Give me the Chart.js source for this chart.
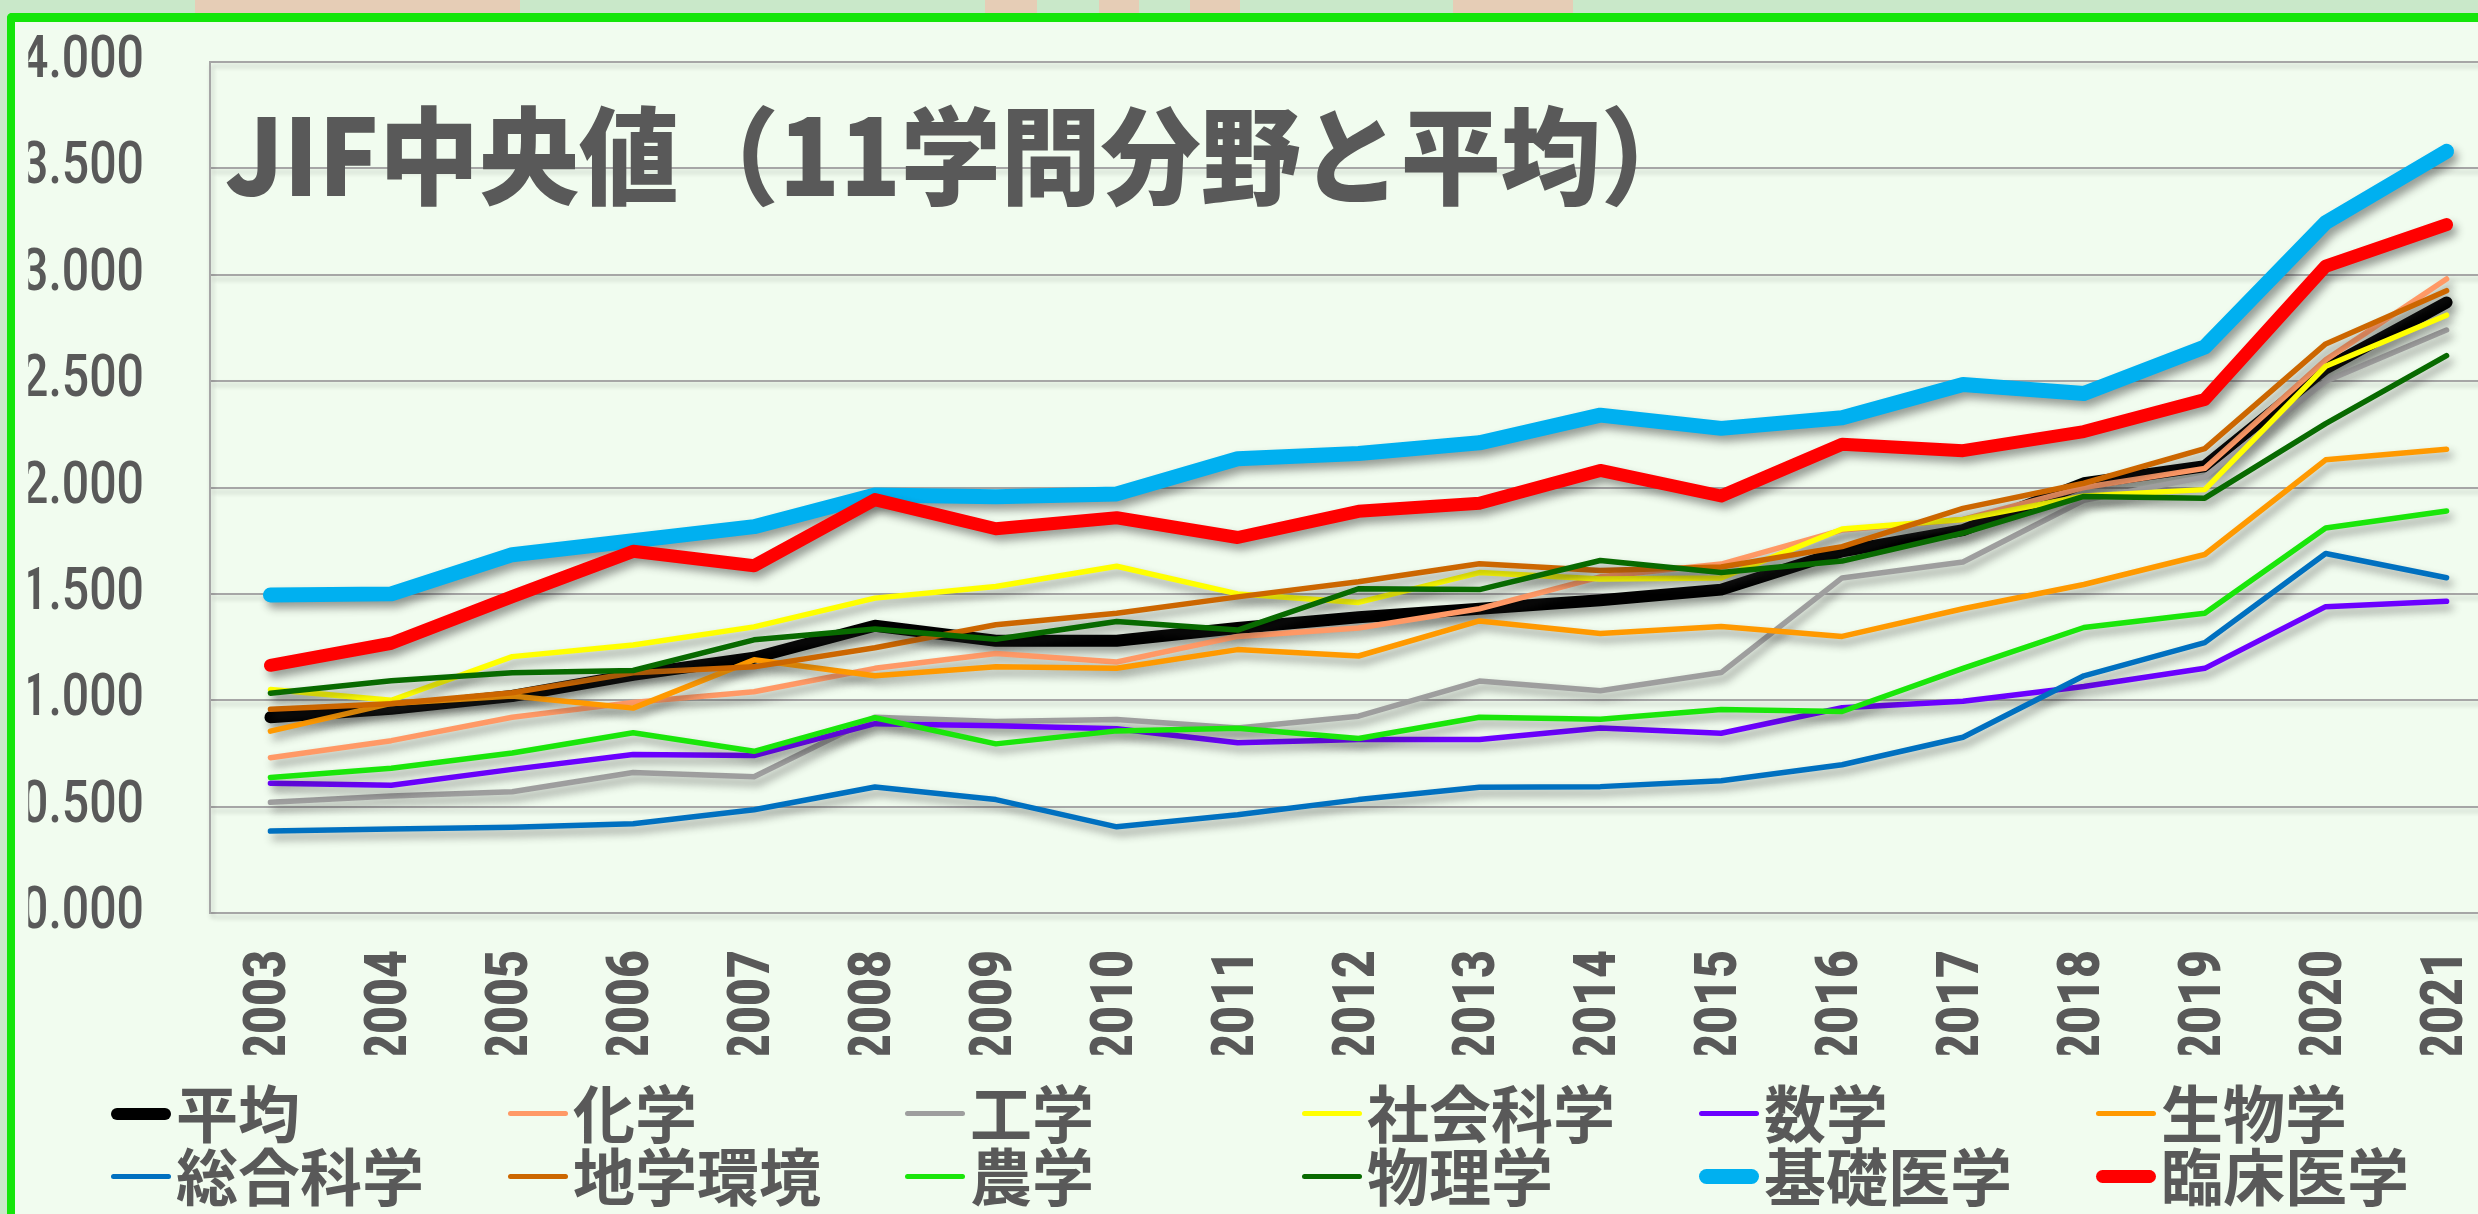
<!DOCTYPE html>
<html><head><meta charset="utf-8">
<script src="https://cdn.jsdelivr.net/npm/chart.js@4.4.1/dist/chart.umd.min.js"></script>
<style>
html,body{margin:0;padding:0;overflow:hidden;width:2478px;height:1214px;background:#C9E8C9;position:relative;}
#frame{position:absolute;left:7px;top:13px;width:2600px;height:1300px;border-left:8px solid #14E60A;border-top:9px solid #14E60A;border-top-left-radius:5px;background:#F1FCEF;}
.patch{position:absolute;top:0;height:13px;background:#E6CDB6;}
#wrap{position:absolute;left:0;top:0;width:2507px;height:1080px;z-index:2;}
#title{position:absolute;left:225px;top:100px;font-family:'Noto Sans CJK JP',sans-serif;font-weight:900;font-size:100px;color:#595959;line-height:100px;white-space:nowrap;transform-origin:0 50%;transform:scale(1.0,1.06);z-index:3;}
#legend{position:absolute;left:111px;top:1080px;display:grid;grid-template-columns:repeat(6,397px);grid-auto-rows:63px;z-index:3;}
.item{display:flex;align-items:center;}
.sw{width:60px;margin-right:5px;margin-top:4px;}
.lt{font-family:'Noto Sans CJK JP',sans-serif;font-weight:700;font-size:62px;color:#595959;line-height:63px;white-space:nowrap;}
</style></head>
<body>
<div class="patch" style="left:195px;width:325px"></div>
<div class="patch" style="left:985px;width:52px"></div>
<div class="patch" style="left:1099px;width:40px"></div>
<div class="patch" style="left:1190px;width:50px"></div>
<div class="patch" style="left:1453px;width:120px"></div>
<div id="frame"></div>
<div id="wrap"><canvas id="c" width="2507" height="1080" style="width:2507px;height:1080px"></canvas></div>
<div id="title"></div>
<div id="legend"></div>
<script>
const chartTitle = 'JIF中央値（11学問分野と平均）';
const years = ['2003','2004','2005','2006','2007','2008','2009','2010','2011','2012','2013','2014','2015','2016','2017','2018','2019','2020','2021'];
const seriesNames = ['平均','化学','工学','社会科学','数学','生物学','総合科学','地学環境','農学','物理学','基礎医学','臨床医学'];
const heikin   = [0.92,0.96,1.02,1.12,1.20,1.35,1.28,1.28,1.34,1.39,1.43,1.47,1.52,1.70,1.80,2.02,2.10,2.56,2.87];
const kagaku   = [0.73,0.81,0.92,0.99,1.04,1.15,1.22,1.18,1.30,1.34,1.43,1.58,1.64,1.80,1.85,2.00,2.09,2.60,2.98];
const kougaku  = [0.52,0.55,0.57,0.66,0.64,0.92,0.90,0.91,0.87,0.925,1.09,1.045,1.13,1.575,1.65,1.94,2.05,2.50,2.74];
const shakai   = [1.05,1.00,1.205,1.26,1.345,1.48,1.535,1.63,1.50,1.46,1.60,1.57,1.575,1.805,1.85,1.96,1.99,2.57,2.81];
const suugaku  = [0.61,0.60,0.675,0.745,0.74,0.89,0.88,0.866,0.80,0.815,0.815,0.87,0.845,0.965,0.995,1.065,1.15,1.44,1.465];
const seibutsu = [0.855,0.985,1.02,0.963,1.19,1.115,1.157,1.15,1.238,1.208,1.373,1.314,1.347,1.30,1.43,1.544,1.685,2.13,2.18];
const sougou   = [0.385,0.395,0.403,0.42,0.485,0.592,0.533,0.405,0.462,0.533,0.591,0.594,0.622,0.697,0.826,1.115,1.271,1.69,1.576];
const chigaku  = [0.958,0.984,1.035,1.129,1.157,1.247,1.355,1.409,1.486,1.557,1.642,1.61,1.626,1.722,1.902,2.02,2.183,2.675,2.925];
const nougaku  = [0.637,0.68,0.752,0.847,0.76,0.918,0.795,0.856,0.868,0.82,0.92,0.911,0.957,0.947,1.15,1.342,1.409,1.81,1.89];
const butsuri  = [1.033,1.092,1.129,1.14,1.284,1.335,1.287,1.37,1.33,1.524,1.52,1.657,1.60,1.654,1.786,1.958,1.95,2.30,2.62];
const kiso     = [1.495,1.50,1.684,1.75,1.816,1.965,1.957,1.97,2.135,2.16,2.21,2.34,2.278,2.328,2.484,2.442,2.66,3.245,3.58];
const rinshou  = [1.164,1.268,1.487,1.70,1.632,1.943,1.806,1.858,1.765,1.888,1.926,2.08,1.96,2.203,2.173,2.263,2.414,3.04,3.236];
const seriesData = [heikin,kagaku,kougaku,shakai,suugaku,seibutsu,sougou,chigaku,nougaku,butsuri,kiso,rinshou];
const seriesColors = ['#000000','#FF9966','#9E9E9E','#FFFF00','#6B00FF','#FF9900','#0070C0','#CC6600','#1AE60A','#086A00','#00B0F0','#FF0000'];
const seriesWidths = [12,5.5,5.5,5.5,5.5,5.5,5.5,5.5,5.5,5.5,15,13];
const yMin = 0, yMax = 4, yStep = 0.5;

document.getElementById('title').textContent = chartTitle;

const legendEl = document.getElementById('legend');
seriesNames.forEach((n,i)=>{
  const it=document.createElement('div'); it.className='item';
  const sw=document.createElement('div'); sw.className='sw';
  sw.style.height=seriesWidths[i]+'px'; sw.style.background=seriesColors[i]; sw.style.borderRadius=(seriesWidths[i]/2)+'px';
  const t=document.createElement('span'); t.className='lt'; t.textContent=n;
  it.appendChild(sw); it.appendChild(t); legendEl.appendChild(it);
});

const tickFamily = "Roboto, 'Liberation Sans', sans-serif";
const ySize = 60, xSize = 60;
// target text lengths (px) of a y label and an x label in the reference
const yLabelLen = 123, xLabelLen = 112;

const labelSqueeze = {
  id:'labelSqueeze',
  beforeDraw(chart){
    const toFont = Chart.helpers.toFont;
    const patch=(scale, fn)=>{
      if(scale._sq) return;
      const orig=scale.drawLabels;
      scale.drawLabels=function(area){
        const ctx=this.ctx; ctx.save();
        ctx.font = toFont(this.options.ticks.font).string;
        fn(ctx,this);
        orig.call(this, area); ctx.restore();
      };
      scale._sq=true;
    };
    patch(chart.scales.y,(ctx,s)=>{
      const w = ctx.measureText(Number(yMax).toFixed(3)).width;
      const k = Math.min(1, yLabelLen / w);
      const ax=s.right - s.options.ticks.padding; ctx.translate(ax,0); ctx.scale(k,1); ctx.translate(-ax,0);
    });
    patch(chart.scales.x,(ctx,s)=>{
      const w = ctx.measureText(years[0]).width;
      const k = Math.min(1, xLabelLen / w);
      const ay=s.top + s.options.ticks.padding; ctx.translate(0,ay); ctx.scale(1,k); ctx.translate(0,-ay);
    });
  }
};

const lineShadow = {
  id:'lineShadow',
  beforeDraw(chart){ const ctx=chart.ctx; ctx.save(); ctx.shadowColor='rgba(0,0,0,0.22)'; ctx.shadowBlur=5; ctx.shadowOffsetX=2; ctx.shadowOffsetY=4; },
  beforeDatasetsDraw(chart){ chart.ctx.restore(); },
  beforeDatasetDraw(chart){ const ctx=chart.ctx; ctx.save(); ctx.shadowColor='rgba(40,40,40,0.45)'; ctx.shadowBlur=9; ctx.shadowOffsetX=4; ctx.shadowOffsetY=6; },
  afterDatasetDraw(chart){ chart.ctx.restore(); }
};

new Chart(document.getElementById('c'), {
  type:'line',
  data:{
    labels: years,
    datasets: seriesNames.map((name,i)=>({
      label:name, data:seriesData[i], borderColor:seriesColors[i], backgroundColor:seriesColors[i],
      borderWidth:seriesWidths[i], pointRadius:0, pointHoverRadius:0, tension:0, fill:false,
      borderCapStyle:'round', borderJoinStyle:'round', order: seriesNames.length - i
    }))
  },
  options:{
    responsive:false, animation:false, devicePixelRatio:1, events:[],
    layout:{padding:{top:62,left:0,right:0,bottom:0}},
    plugins:{legend:{display:false}, title:{display:false}, tooltip:{enabled:false}},
    scales:{
      x:{
        type:'category', offset:true,
        grid:{display:false, drawTicks:false}, border:{display:false},
        ticks:{minRotation:90, maxRotation:90, autoSkip:false, padding:37, color:'#595959', z:1,
               font:{family:tickFamily, size:xSize, weight:'900'}},
        afterFit(s){ s.height=167; s.paddingLeft=0; s.paddingRight=0; }
      },
      y:{
        min:yMin, max:yMax,
        ticks:{stepSize:yStep, padding:66, color:'#595959', z:1,
               font:{family:tickFamily, size:ySize, weight:'500'},
               callback:(v)=>Number(v).toFixed(3)},
        grid:{color:'#A6A6A6', lineWidth:2, drawTicks:false},
        border:{display:true, color:'#A6A6A6', width:2},
        afterFit(s){ s.width=210; s.paddingTop=0; s.paddingBottom=0; }
      }
    }
  },
  plugins:[lineShadow, labelSqueeze]
});
</script>
</body></html>
